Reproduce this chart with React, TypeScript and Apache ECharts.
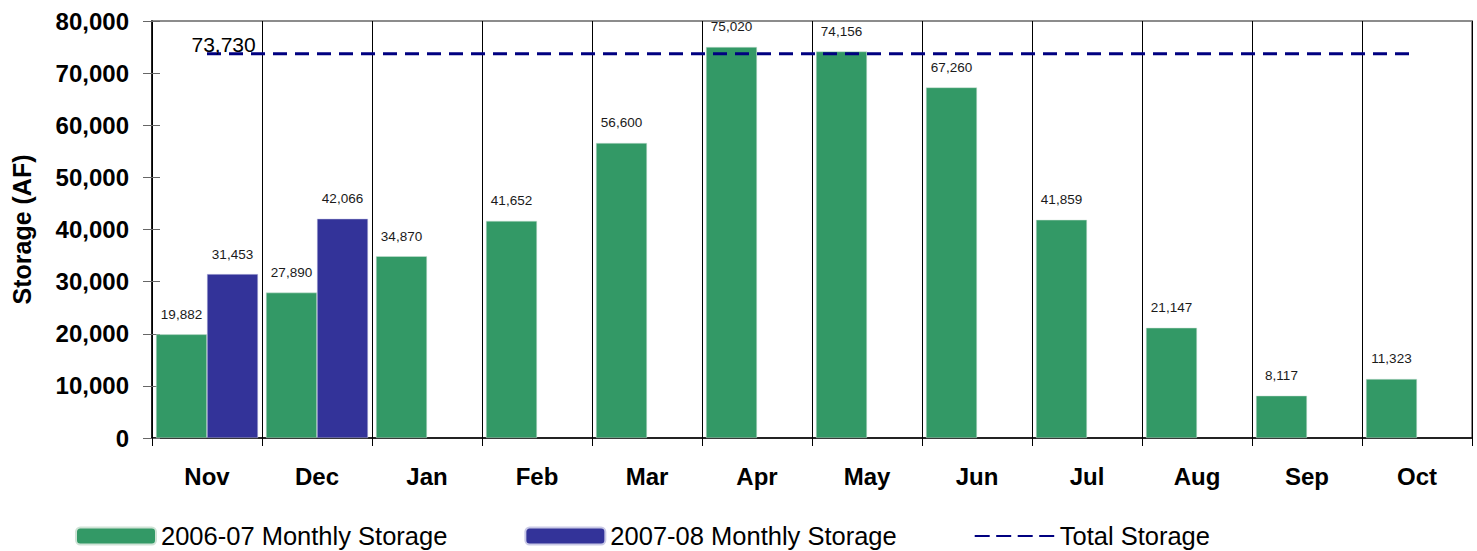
import React, { useEffect, useRef } from "react";
import * as echarts from "echarts";

const months = ["Nov", "Dec", "Jan", "Feb", "Mar", "Apr", "May", "Jun", "Jul", "Aug", "Sep", "Oct"];
const storage0607 = [19882, 27890, 34870, 41652, 56600, 75020, 74156, 67260, 41859, 21147, 8117, 11323];
const storage0708 = [31453, 42066, null, null, null, null, null, null, null, null, null, null];
const totalStorage = [73730, 73730, 73730, 73730, 73730, 73730, 73730, 73730, 73730, 73730, 73730, 73730];

const FONT = "Arial, 'Liberation Sans', sans-serif";

export default function App() {
  const ref = useRef<HTMLDivElement>(null);
  useEffect(() => {
    if (!ref.current) return;
    const chart = echarts.init(ref.current, null, { renderer: "svg" });
    const fmt = (v: number) => v.toLocaleString("en-US");
    const barLabel = {
      show: true,
      position: "top",
      distance: 13,
      fontSize: 13.5,
      fontFamily: FONT,
      color: "#1a1a1a",
      formatter: (p: any) => (p.value == null ? "" : fmt(p.value)),
    };
    chart.setOption({
      animation: false,
      backgroundColor: "#ffffff",
      grid: {
        left: 152,
        right: 5,
        top: 21,
        bottom: 113,
        containLabel: false,
        outerBoundsMode: "none",
        show: true,
        borderColor: "#8c8c8c",
        borderWidth: 2,
      },
      legend: {
        left: 75,
        top: 523,
        padding: 0,
        itemWidth: 80,
        itemHeight: 17,
        itemGap: 77,
        textStyle: { fontSize: 25.5, fontFamily: FONT, color: "#000" },
        data: [
          "2006-07 Monthly Storage",
          "2007-08 Monthly Storage",
          {
            name: "Total Storage",
            itemStyle: { opacity: 0 },
            lineStyle: { width: 2, type: [15, 6.5], color: "#000080" },
          },
        ],
      },
      xAxis: {
        type: "category",
        data: months,
        boundaryGap: true,
        axisLine: { show: true, lineStyle: { color: "#000", width: 1.5 } },
        axisTick: { show: true, length: 8, lineStyle: { color: "#000" } },
        axisLabel: {
          margin: 26,
          fontSize: 24,
          fontWeight: "bold",
          fontFamily: FONT,
          color: "#000",
        },
        splitLine: { show: true, lineStyle: { color: "#000", width: 1 } },
      },
      yAxis: [
        {
          type: "value",
          min: 0,
          max: 80000,
          interval: 10000,
          name: "Storage (AF)",
          nameLocation: "middle",
          nameGap: 118,
          nameTextStyle: { fontSize: 25, fontWeight: "bold", fontFamily: FONT, color: "#000" },
          axisLine: { show: true, lineStyle: { color: "#000", width: 1.5 } },
          axisTick: { show: true, length: 9, lineStyle: { color: "#666" } },
          axisLabel: {
            margin: 23,
            fontSize: 24,
            fontWeight: "bold",
            fontFamily: FONT,
            color: "#000",
            formatter: (v: number) => fmt(v),
          },
          splitLine: { show: false },
        },
        {
          type: "value",
          min: 0,
          max: 80000,
          interval: 10000,
          position: "left",
          axisLine: { show: false },
          axisTick: { show: true, inside: true, length: 8, lineStyle: { color: "#666" } },
          axisLabel: { show: false },
          splitLine: { show: false },
        },
      ],
      series: [
        {
          name: "2006-07 Monthly Storage",
          type: "bar",
          data: storage0607,
          barWidth: 51,
          barGap: "0%",
          itemStyle: { color: "#339966", borderColor: "#cfe3d6", borderWidth: 0.5 },
          label: barLabel,
        },
        {
          name: "2007-08 Monthly Storage",
          type: "bar",
          data: storage0708,
          barWidth: 51,
          barGap: "0%",
          itemStyle: { color: "#333399", borderColor: "#c9c9e6", borderWidth: 0.5 },
          label: barLabel,
        },
        {
          name: "Total Storage",
          type: "line",
          data: totalStorage.map((v, i) =>
            i === 0
              ? {
                  value: v,
                  label: {
                    show: true,
                    position: [-15, -19],
                    align: "left",
                    verticalAlign: "top",
                    fontSize: 21,
                    fontFamily: FONT,
                    color: "#000",
                    opacity: 1,
                    formatter: (p: any) => fmt(p.value),
                  },
                }
              : v
          ),
          symbol: "circle",
          symbolSize: 1,
          showSymbol: true,
          showAllSymbol: true,
          labelLayout: { hideOverlap: false },
          lineStyle: { color: "#000080", width: 3, type: [14, 8] },
          itemStyle: { color: "rgba(0,0,0,0)", borderWidth: 0 },
        },
      ],
    });
    return () => chart.dispose();
  }, []);
  return (
    <div
      ref={ref}
      style={{ position: "fixed", left: 0, top: 0, width: 1477, height: 551 }}
    />
  );
}
